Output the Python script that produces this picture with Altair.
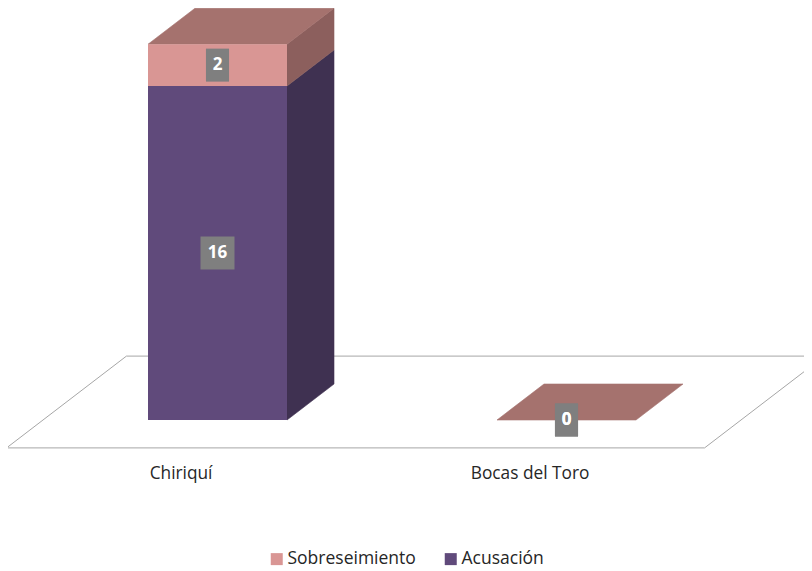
import altair as alt
import pandas as pd

# ---- data ----
categories = ["Chiriquí", "Bocas del Toro"]
series = ["Sobreseimiento", "Acusación"]
acusacion = [16, 0]
sobreseimiento = [2, 0]

# ---- styles ----
front_colors = {"Acusación": "#604A7B", "Sobreseimiento": "#D99694"}
side_colors = {"Acusación": "#3F3151", "Sobreseimiento": "#8C5F5D"}
top_color = "#A5726E"
FONT = "Open Sans"

# ---- geometry (oblique projection) ----
W, H = 796, 566
UX, UY = 349.0, 20.875          # px per category unit / per value unit
X0_PX, Y0_PX = 209.5, 412.0     # pixel position of category 0 / value 0
x_dom = [-X0_PX / UX, (W - X0_PX) / UX]
y_dom = [-(H - Y0_PX) / UY, Y0_PX / UY]
HW = 69.5 / UX                  # half bar width
DX, DY = 47 / UX, 36 / UY       # bar depth vector
FZ0, FZ1 = -0.775, 1.775        # floor depth range (in bar depths)

xs = alt.Scale(domain=x_dom, nice=False, zero=False)
ys = alt.Scale(domain=y_dom, nice=False, zero=False)

front, side, top, labels, cats = [], [], [], [], []
for i, cat in enumerate(categories):
    a, s = acusacion[i], sobreseimiento[i]
    segs = [("Acusación", 0, a), ("Sobreseimiento", a, a + s)]
    for name, lo, hi in segs:
        if hi > lo:
            front.append(dict(series=name, x=i - HW, x2=i + HW, y=lo, y2=hi))
            gid = f"{cat}-{name}"
            side.append(dict(g=gid, c=side_colors[name], x=i + HW, y=lo, y2=hi))
            side.append(dict(g=gid, c=side_colors[name], x=i + HW + DX, y=lo + DY, y2=hi + DY))
        t = str(hi - lo)
        w = 0.70 if len(t) == 1 else 1.03
        labels.append(dict(x=i, y=(lo + hi) / 2, t=t,
                           shape=f"M{-w},-1H{w}V1H{-w}Z"))
    total = a + s
    top.append(dict(g=cat, x=i - HW, x2=i + HW, y=total))
    top.append(dict(g=cat, x=i - HW + DX, x2=i + HW + DX, y=total + DY))
    cats.append(dict(x=i + FZ0 * DX, y=FZ0 * DY, t=cat))

n = len(categories)
xl, xr = -0.5, n - 0.5
floor = pd.DataFrame([
    dict(o=0, x=xl + FZ0 * DX, y=FZ0 * DY),
    dict(o=1, x=xr + FZ0 * DX, y=FZ0 * DY),
    dict(o=2, x=xr + FZ1 * DX, y=FZ1 * DY),
    dict(o=3, x=xl + FZ1 * DX, y=FZ1 * DY),
    dict(o=4, x=xl + FZ0 * DX, y=FZ0 * DY),
])

X = lambda f: alt.X(f, type="quantitative", scale=xs, axis=None)
Y = lambda f: alt.Y(f, type="quantitative", scale=ys, axis=None, stack=None)

floor_l = alt.Chart(floor).mark_line(color="#A6A6A6", strokeWidth=1, clip=True).encode(
    x=X("x"), y=Y("y"), order="o:Q")

side_l = alt.Chart(pd.DataFrame(side)).mark_area(opacity=1, strokeWidth=0.6).encode(
    x=X("x"), y=Y("y"), y2="y2:Q",
    fill=alt.Fill("c:N", scale=None, legend=None),
    stroke=alt.Stroke("c:N", scale=None, legend=None),
    detail="g:N")

top_l = alt.Chart(pd.DataFrame(top)).mark_area(
    orient="horizontal", opacity=1, color=top_color, stroke=top_color, strokeWidth=0.6).encode(
    y=Y("y"), x=X("x"), x2="x2:Q", detail="g:N")

front_l = alt.Chart(pd.DataFrame(front)).mark_rect().encode(
    x=X("x"), x2="x2:Q", y=Y("y"), y2="y2:Q",
    color=alt.Color("series:N",
                    scale=alt.Scale(domain=series, range=[front_colors[s] for s in series]),
                    legend=alt.Legend(title=None, orient="none", legendX=260, legendY=542,
                                      direction="horizontal", symbolType="square",
                                      symbolSize=144, symbolStrokeWidth=0,
                                      labelFont=FONT, labelFontSize=17.5, labelColor="#262626",
                                      columnPadding=26, labelOffset=2, padding=0)))

lab_df = pd.DataFrame(labels)
box_l = alt.Chart(lab_df).mark_point(filled=True, opacity=1, color="#7F7F7F", size=1089).encode(
    x=X("x"), y=Y("y"), shape=alt.Shape("shape:N", scale=None, legend=None))
txt_l = alt.Chart(lab_df).mark_text(font=FONT, fontSize=17, fontWeight="bold", color="white",
                                    baseline="middle").encode(
    x=X("x"), y=Y("y"), text="t:N")

cat_l = alt.Chart(pd.DataFrame(cats)).mark_text(font=FONT, fontSize=17.3, color="#262626",
                                                baseline="middle", dy=26).encode(
    x=X("x"), y=Y("y"), text="t:N")

chart = alt.layer(floor_l, side_l, top_l, front_l, box_l, txt_l, cat_l).properties(
    width=W, height=H, autosize=alt.AutoSizeParams(type="none"), padding=0
).configure_view(strokeWidth=0)

chart.save("out.html", embed_options={"renderer": "svg", "actions": False})
